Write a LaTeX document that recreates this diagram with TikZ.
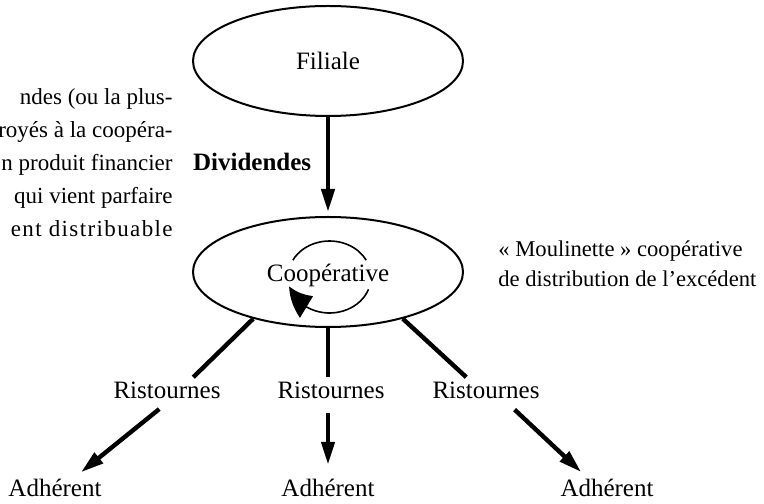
\documentclass[tikz,border=0pt]{standalone}
\usepackage{fontspec}
\setmainfont{Liberation Serif}
\usepackage{tikz}
\usetikzlibrary{arrows.meta}
\usetikzlibrary{bending, shapes.geometric, positioning}

\begin{document}
\begin{tikzpicture}[
            x=0.5pt, y=0.5pt, font=\fontsize{12.5}{16.5}\selectfont,
            entite/.style={ellipse, draw, line width=1pt, minimum width=135pt, minimum height=55pt, inner sep=0pt},
            etiquette/.style={inner sep=2pt},
            flux/.style={-{Triangle[length=11.5pt, width=6.5pt]}, line width=2.2pt},
            lien/.style={line width=2.2pt},
            boucle/.style={line width=0.8pt},
        ]
            \useasboundingbox (0,0) rectangle (764,503);

            % --- Filiale et coopérative ---
            \node[entite] (filiale) at (328,442) {Filiale};
            \node[entite, text height=12pt] (coop) at (328,231) {Coopérative};

            % --- Ristournes et adhérents ---
            \node[etiquette] (ristA) at (167,113) {Ristournes};
            \node[etiquette] (ristB) at (331,113) {Ristournes};
            \node[etiquette] (ristC) at (486,113) {Ristournes};
            \node[etiquette] (adhA) at (55,15) {Adhérent};
            \node[etiquette] (adhB) at (328,15) {Adhérent};
            \node[etiquette] (adhC) at (607,15) {Adhérent};

            % --- Textes en marge ---
            \node[etiquette, anchor=east, align=right, font=\fontsize{11.5}{16.5}\selectfont] (expl) at (177,340)
                {ndes (ou la plus-\\royés à la coopéra-\\n produit financier\\qui vient parfaire\\{\addfontfeature{LetterSpace=6}ent distribuable}};
            \node[etiquette, anchor=west, align=left, font=\fontsize{11.3}{15}\selectfont] (moul) at (494,239)
                {«~Moulinette~» coopérative\\de distribution de l’excédent};

            % --- Dividendes vers la coopérative ---
            \draw[flux, shorten >=2pt] (filiale) -- node[left=4pt, pos=0.45, font=\fontsize{12.5}{16.5}\selectfont\bfseries] {Dividendes} (coop);

            % --- Boucle de la moulinette ---
            \draw[boucle] (292.9,242.9) arc[start angle=152, end angle=28, x radius=41.5, y radius=36];
            \draw[boucle, -{Triangle[length=13.5pt, width=12.5pt, bend]}] (368.5,213.7) arc[start angle=-20, end angle=-165, x radius=41.5, y radius=36];

            % --- Ristournes ---
            \draw[lien] (coop.212) -- (ristA.26);
            \draw[lien] (coop.south) -- (coop.south |- ristB.north);
            \draw[lien] (coop.-32) -- (ristC.147);

            % --- Vers les adhérents ---
            \draw[flux, shorten <=5pt, shorten >=2pt] (ristA.south) -- (adhA.30);
            \draw[flux, shorten <=5pt, shorten >=5pt] (coop.south |- ristB.south) -- (coop.south |- adhB.north);
            \draw[flux, shorten <=5pt, shorten >=2pt] (ristC.-31) -- (adhC.150);
        \end{tikzpicture}
\end{document}
